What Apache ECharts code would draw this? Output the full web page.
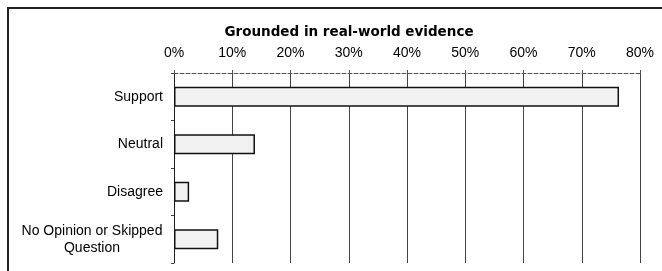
<!DOCTYPE html>
<html>
<head>
<meta charset="utf-8">
<script src="https://cdn.jsdelivr.net/npm/echarts@6/dist/echarts.min.js"></script>
<style>
	html, body { margin: 0; padding: 0; background: #fff; }
	#chart { width: 662px; height: 271px; }
</style>
</head>
<body>
<div id="chart"></div>
<script>
	// data
	var categories = ['Support', 'Neutral', 'Disagree', 'No Opinion or Skipped\nQuestion'];
	var shares = [76.4, 13.9, 2.6, 7.6];
	var tickMin = 0, tickMax = 80, tickStep = 10;
	var chartTitle = 'Grounded in real-world evidence';

	var myChart = echarts.init(document.getElementById('chart'));
	myChart.setOption({
		backgroundColor: '#fff',
		animation: false,
		title: {
			text: chartTitle,
			left: 344,
			top: 20,
			textAlign: 'center',
			textStyle: { fontFamily: 'DejaVu Sans', fontSize: 13.5, fontWeight: 'bold', color: '#000' }
		},
		graphic: [{
			type: 'rect',
			shape: { x: 8, y: 8, width: 700, height: 300 },
			style: { fill: 'none', stroke: '#222', lineWidth: 2 }
		}],
		grid: { left: 174, top: 73, right: 22, bottom: 8 },
		xAxis: {
			type: 'value',
			position: 'top',
			min: tickMin,
			max: tickMax,
			interval: tickStep,
			axisLine: { show: true, lineStyle: { color: '#555', width: 1, type: 'dashed' } },
			axisTick: { show: true, length: 3, lineStyle: { color: '#555' } },
			axisLabel: {
				formatter: '{value}%',
				margin: 13,
				fontFamily: 'Liberation Sans', fontSize: 14, color: '#000'
			},
			splitLine: { show: true, lineStyle: { color: '#444', width: 1 } }
		},
		yAxis: {
			type: 'category',
			inverse: true,
			data: categories,
			axisLine: { show: true, lineStyle: { color: '#222', width: 1 } },
			axisTick: { show: true, length: 3, lineStyle: { color: '#444' } },
			axisLabel: {
				margin: 11,
				fontFamily: 'Liberation Sans', fontSize: 14, color: '#000',
				lineHeight: 17,
				formatter: function (v) {
					if (v.indexOf('\n') < 0) return v;
					return v.split('\n').map(function (s) { return '{c|' + s + '}'; }).join('\n');
				},
				rich: {
					c: { width: 142, align: 'center', fontFamily: 'Liberation Sans', fontSize: 14, lineHeight: 17, color: '#000' }
				}
			}
		},
		series: [{
			type: 'bar',
			data: shares,
			barWidth: 20,
			itemStyle: { color: '#f2f2f2', borderColor: '#111', borderWidth: 1.5 }
		}]
	});
</script>
</body>
</html>
